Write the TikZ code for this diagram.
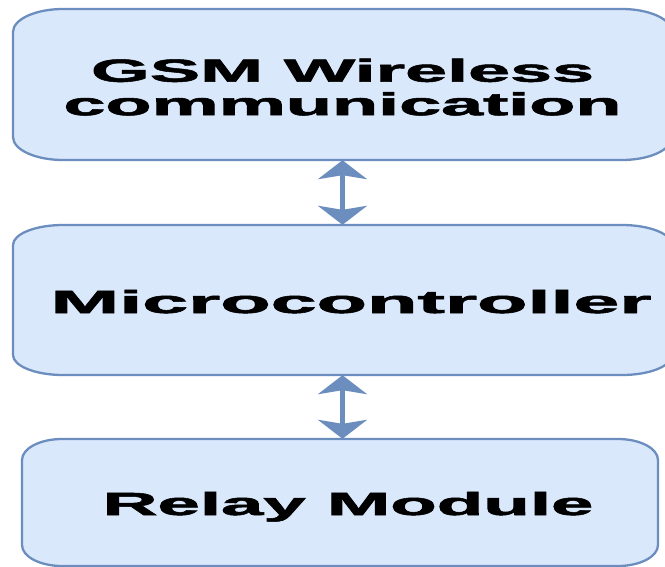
\documentclass[tikz,border=0pt]{standalone}
\usepackage{fontspec}
\setmainfont{Liberation Sans}[BoldFeatures={FakeBold=1.6}]
\usetikzlibrary{arrows.meta}
\definecolor{boxfill}{HTML}{DAE8FC}
\definecolor{boxline}{HTML}{6C8EBF}
\tikzset{
  boxstyle/.style={draw=boxline, fill=boxfill, line width=2.3pt},
  lbl/.style={inner sep=0pt, font=\fontsize{32}{33.5}\selectfont\bfseries, text=black},
  biarrow/.style={draw=boxline, line width=5pt,
    {Stealth[width=49pt,length=19pt,inset=4pt]}-{Stealth[width=49pt,length=19pt,inset=4pt]}}
}
% elliptical-corner box: x1,y1,x2,y2,rx,ry
\newcommand{\ellbox}[6]{%
  \path[boxstyle] (#1,#2+#6) -- (#1,#4-#6)
    .. controls (#1,#4-0.448*#6) and (#1+0.448*#5,#4) .. (#1+#5,#4)
    -- (#3-#5,#4)
    .. controls (#3-0.448*#5,#4) and (#3,#4-0.448*#6) .. (#3,#4-#6)
    -- (#3,#2+#6)
    .. controls (#3,#2+0.448*#6) and (#3-0.448*#5,#2) .. (#3-#5,#2)
    -- (#1+#5,#2)
    .. controls (#1+0.448*#5,#2) and (#1,#2+0.448*#6) .. (#1,#2+#6) -- cycle;}
\begin{document}
\begin{tikzpicture}[x=1pt,y=-1pt]
\useasboundingbox (0,0) rectangle (665,566);
\clip (0,0) rectangle (665,566);
\ellbox{13}{9}{672}{160}{50}{23}
\ellbox{13}{225}{672}{375}{50}{20}
\ellbox{22}{439}{658}{566}{40}{21}
\node[lbl, minimum width=659pt, minimum height=151pt] (gsm) at (342.5,84.5)
  {\raisebox{-13.5pt}[0pt][0pt]{\scalebox{2.36}[1]{\begin{tabular}{@{}c@{}}GSM Wireless\\communication\end{tabular}}}};
\node[lbl, minimum width=659pt, minimum height=150pt] (mcu) at (342.5,300)
  {\hspace*{17pt}\raisebox{-13pt}[0pt][0pt]{\scalebox{2.58}[1]{Microcontroller}}};
\node[lbl, minimum width=636pt, minimum height=127pt] (relay) at (340,502.5)
  {\hspace*{16pt}\raisebox{-12.5pt}[0pt][0pt]{\scalebox{2.38}[1]{Relay Module}}};
\draw[biarrow] (gsm.south) -- (mcu.north);
\draw[biarrow] (mcu.south) -- (mcu.south |- relay.north);
\end{tikzpicture}
\end{document}
